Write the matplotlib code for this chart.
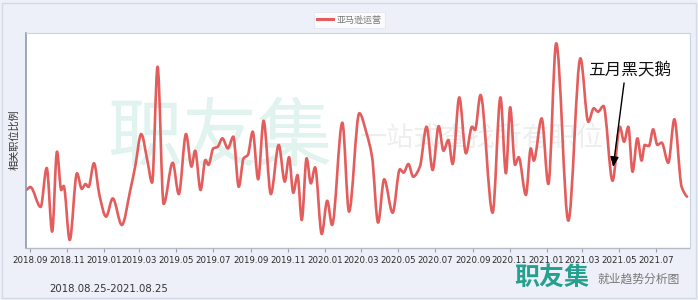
import matplotlib
matplotlib.use('Agg')
import matplotlib.pyplot as plt
import matplotlib.dates as mdates
from matplotlib.path import Path
from matplotlib.patches import PathPatch, Rectangle
from matplotlib.lines import Line2D
import numpy as np
import datetime as dt

plt.rcParams['font.family'] = ['Noto Sans CJK SC', 'DejaVu Sans']

series_name = '亚马逊运营'
date_range_label = '2018.08.25-2021.08.25'
annotation_text = '五月黑天鹅'

dates = [
    '2018-08-26', '2018-09-02', '2018-09-19', '2018-09-29', '2018-10-08', '2018-10-16',
    '2018-10-23', '2018-10-27', '2018-11-06', '2018-11-18', '2018-11-26', '2018-12-02',
    '2018-12-07', '2018-12-16', '2018-12-25', '2019-01-05', '2019-01-16', '2019-01-31',
    '2019-02-14', '2019-02-22', '2019-03-04', '2019-03-14', '2019-03-22', '2019-03-31',
    '2019-04-10', '2019-04-25', '2019-05-05', '2019-05-17', '2019-05-26', '2019-06-01',
    '2019-06-10', '2019-06-18', '2019-06-23', '2019-07-01', '2019-07-08', '2019-07-16',
    '2019-07-25', '2019-08-03', '2019-08-12', '2019-08-20', '2019-08-27', '2019-09-04',
    '2019-09-13', '2019-09-22', '2019-10-04', '2019-10-17', '2019-10-27', '2019-11-03',
    '2019-11-10', '2019-11-17', '2019-11-24', '2019-12-02', '2019-12-09', '2019-12-16',
    '2019-12-27', '2020-01-05', '2020-01-13', '2020-01-30', '2020-02-10', '2020-02-27',
    '2020-03-10', '2020-03-19', '2020-03-29', '2020-04-08', '2020-04-22', '2020-05-04',
    '2020-05-10', '2020-05-18', '2020-05-26', '2020-06-06', '2020-06-17', '2020-06-27',
    '2020-07-07', '2020-07-15', '2020-07-23', '2020-07-30', '2020-08-10', '2020-08-21',
    '2020-08-31', '2020-09-05', '2020-09-14', '2020-10-04', '2020-10-17', '2020-10-26',
    '2020-11-02', '2020-11-10', '2020-11-16', '2020-11-28', '2020-12-06', '2020-12-11',
    '2020-12-24', '2021-01-04', '2021-01-17', '2021-02-06', '2021-02-26', '2021-03-11',
    '2021-03-20', '2021-03-27', '2021-04-05', '2021-04-20', '2021-05-02', '2021-05-09',
    '2021-05-16', '2021-05-23', '2021-05-31', '2021-06-07', '2021-06-12', '2021-06-19',
    '2021-06-26', '2021-07-03', '2021-07-10', '2021-07-21', '2021-07-31', '2021-08-12',
    '2021-08-21',
]

values = [
    26.8, 28.2, 18.9, 37.1, 7.4, 44.7,
    26.8, 28.7, 3.5, 34.6, 27.3, 29.6,
    28.2, 39.3, 24.5, 14.4, 22.9, 10.5,
    26.8, 37.7, 52.9, 40.8, 30.2, 84.3,
    20.3, 39.5, 24.9, 52.9, 37.7, 45.1,
    26.8, 40.8, 38.5, 46.2, 46.9, 50.9,
    46.2, 51.7, 28.3, 41.6, 43.1, 54.0,
    31.8, 59.1, 24.9, 47.8, 30.7, 42.1,
    25.5, 33.8, 12.8, 41.6, 29.9, 37.4,
    6.3, 21.8, 10.5, 58.2, 16.7, 62.6,
    53.2, 42.3, 11.6, 31.8, 16.2, 36.5,
    34.9, 38.9, 33.0, 37.7, 56.3, 36.1,
    56.6, 45.1, 50.1, 38.9, 70.0, 43.9,
    56.3, 54.8, 71.1, 16.2, 70.0, 34.6,
    65.4, 38.5, 42.1, 24.5, 46.2, 40.5,
    60.2, 29.6, 95.2, 12.5, 88.2, 58.6,
    64.9, 63.3, 66.0, 31.1, 56.3, 49.3,
    56.3, 35.3, 50.9, 40.5, 47.8, 47.3,
    55.1, 47.8, 48.9, 39.5, 59.8, 28.3,
    23.7,
]

W, H = 698, 300
fig = plt.figure(figsize=(W / 100, H / 100), dpi=100, facecolor='#edf0f8')
ax = fig.add_axes([25.5 / W, 1 - 247.5 / H, (689.5 - 25.5) / W, (247.5 - 33) / H])
ax.set_facecolor('white')

x = mdates.date2num([dt.datetime.strptime(d, '%Y-%m-%d') for d in dates])
y = np.array(values, dtype=float)

# monotone (PCHIP-style) tangents for a smooth line
h = np.diff(x)
delta = np.diff(y) / h
m = np.zeros_like(y)
for k in range(1, len(y) - 1):
    if delta[k - 1] * delta[k] <= 0:
        m[k] = 0.0
    else:
        w1 = 2 * h[k] + h[k - 1]
        w2 = h[k] + 2 * h[k - 1]
        m[k] = (w1 + w2) / (w1 / delta[k - 1] + w2 / delta[k])
m[0] = delta[0] * 0.5
m[-1] = delta[-1] * 0.5

verts = [(x[0], y[0])]
codes = [Path.MOVETO]
for i in range(len(x) - 1):
    hi = h[i]
    verts += [(x[i] + hi / 3, y[i] + m[i] * hi / 3),
              (x[i + 1] - hi / 3, y[i + 1] - m[i + 1] * hi / 3),
              (x[i + 1], y[i + 1])]
    codes += [Path.CURVE4] * 3
line_color = '#e45d5d'
ax.add_patch(PathPatch(Path(verts, codes), facecolor='none', edgecolor=line_color,
                       lw=1.9, capstyle='round', joinstyle='round', zorder=2))

ax.set_xlim(mdates.date2num(dt.datetime(2018, 8, 25)), mdates.date2num(dt.datetime(2021, 8, 25)))
ax.set_ylim(0, 100)
ax.set_yticks([])
ax.xaxis.set_major_locator(mdates.MonthLocator(bymonth=[1, 3, 5, 7, 9, 11]))
ax.xaxis.set_major_formatter(mdates.DateFormatter('%Y.%m'))
ax.tick_params(axis='x', direction='out', length=3, width=0.8, color='#9aa0ad',
               labelsize=6.2, labelcolor='#2a2a2a', pad=3)
for lab in ax.get_xticklabels():
    lab.set_family('DejaVu Sans')

ax.spines['left'].set_color('#8f98aa')
ax.spines['left'].set_linewidth(1.2)
ax.spines['bottom'].set_color('#b5bac6')
ax.spines['bottom'].set_linewidth(1.0)
ax.spines['top'].set_color('#c8d3e8')
ax.spines['right'].set_color('#c8d3e8')

# watermark (behind the line)
ax.text(220 / W, 1 - 138 / H, '职友集', transform=fig.transFigure, fontsize=54,
        color='#e1f3ef', ha='center', va='center', zorder=0.5)
ax.text(360 / W, 1 - 138 / H, '一站式查找所有职位', transform=fig.transFigure, fontsize=19.5,
        color='#eeeeee', ha='left', va='center', zorder=0.5)

# legend
leg = ax.legend(handles=[Line2D([], [], color=line_color, lw=2.2)], labels=[series_name],
                loc='center', bbox_to_anchor=(349.5 / W, 1 - 20 / H), bbox_transform=fig.transFigure,
                fontsize=6.5, frameon=True, fancybox=False, edgecolor='#dfe3ec', facecolor='white',
                handlelength=1.8, handletextpad=0.4, borderpad=0.35, labelcolor='#777777')
leg.get_frame().set_linewidth(0.6)

# y label
fig.text(14 / W, 1 - 140 / H, '相关职位比例', rotation=90, fontsize=7.3, color='#333333',
         ha='center', va='center')

# date range
fig.text(49 / W, 1 - 289 / H, date_range_label, fontsize=7.3, color='#333333',
         ha='left', va='center', family='DejaVu Sans')

# annotation
ax.annotate('', xy=(mdates.date2num(dt.datetime(2021, 4, 21)), 37.5),
            xytext=(mdates.date2num(dt.datetime(2021, 5, 9)), 76.7),
            arrowprops=dict(arrowstyle='-|>,head_length=0.6,head_width=0.25', color='black', lw=1.0,
                            shrinkA=0, shrinkB=0), zorder=5)
fig.text(588 / W, 1 - 70 / H, annotation_text, fontsize=12, color='#111111', ha='left', va='center')

# bottom-right logo
fig.text(552 / W, 1 - 278 / H, '职友集', fontsize=18, color='#24a08e', ha='center', va='center',
         fontweight='bold')
fig.text(597 / W, 1 - 279 / H, '就业趋势分析图', fontsize=8.5, color='#777777', ha='left', va='center')

# outer frame
fig.patches.append(Rectangle((2 / W, 2 / H), 694 / W, 295 / H, transform=fig.transFigure,
                             fill=False, edgecolor='#d3d9e5', lw=1.0))

fig.savefig('out.png', dpi=100, facecolor=fig.get_facecolor())
